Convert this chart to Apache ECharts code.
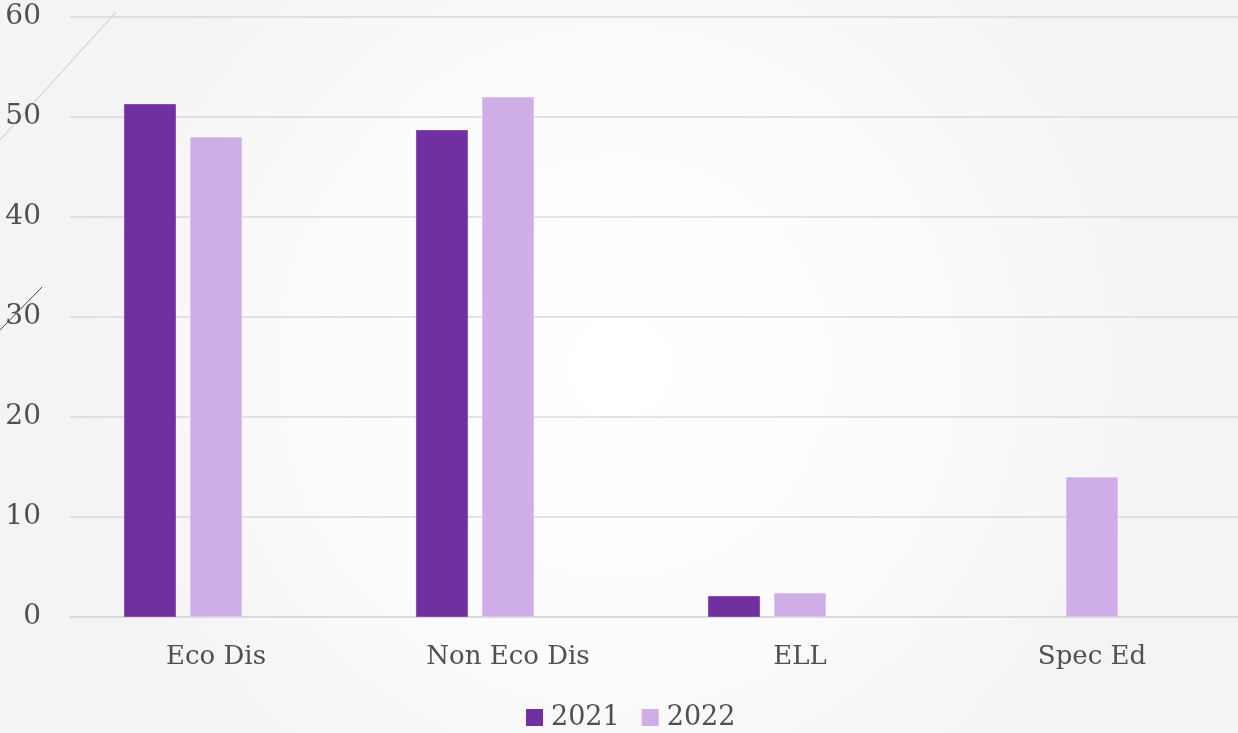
<!DOCTYPE html>
<html>
<head>
<meta charset="utf-8">
<script src="https://cdn.jsdelivr.net/npm/echarts@6/dist/echarts.min.js"></script>
<style>html,body{margin:0;padding:0;}#c{width:1238px;height:733px;}</style>
</head>
<body>
<div id="c"></div>
<script>
const categories = ['Eco Dis', 'Non Eco Dis', 'ELL', 'Spec Ed'];
const values2021 = [51.3, 48.7, 2.1, '-'];
const values2022 = [48.0, 52.0, 2.4, 14.0];
const valuesBlank = ['-', '-', '-', '-'];
const yTicks = [0, 10, 20, 30, 40, 50, 60];

const font = 'DejaVu Serif';
const chart = echarts.init(document.getElementById('c'));
chart.setOption({
  backgroundColor: {
    type: 'radial', x: 0.5, y: 0.5, r: 0.75,
    colorStops: [{offset: 0, color: '#ffffff'}, {offset: 0.5, color: '#fcfcfc'}, {offset: 1, color: '#f4f4f4'}]
  },
  animation: false,
  graphic: [
    {type: 'line', shape: {x1: 116, y1: 12, x2: 0, y2: 140}, style: {stroke: '#c8c8c8', lineWidth: 1}, z: -1},
    {type: 'line', shape: {x1: 42, y1: 287, x2: 0, y2: 330}, style: {stroke: '#404858', lineWidth: 1}, z: -1}
  ],
  grid: {left: 70, right: 0, top: 17, bottom: 116, containLabel: false},
  legend: {
    data: ['2021', '2022'],
    bottom: -3, left: 521,
    itemWidth: 17, itemHeight: 17, itemGap: 22,
    icon: 'rect',
    itemStyle: {borderWidth: 0},
    textStyle: {fontFamily: font, fontSize: 27, color: '#505050', padding: [0, 0, 0, 3]}
  },
  xAxis: {
    type: 'category', data: categories,
    axisLine: {lineStyle: {color: '#d9d9d9', width: 1.5}},
    axisTick: {show: false},
    axisLabel: {fontFamily: font, fontSize: 26, color: '#505050', margin: 27}
  },
  yAxis: {
    type: 'value', min: 0, max: 60, interval: 10,
    axisLine: {show: false}, axisTick: {show: false},
    splitLine: {lineStyle: {color: '#d9d9d9', width: 1.5}},
    axisLabel: {fontFamily: font, fontSize: 28, color: '#505050', margin: 29,
      formatter: v => yTicks.includes(v) ? String(v) : ''}
  },
  series: [
    {name: '2021', type: 'bar', data: values2021, barWidth: 52, barGap: '27%',
      itemStyle: {color: '#7030a0', borderColor: '#8a4cbb', borderWidth: 1}},
    {name: '2022', type: 'bar', data: values2022, barWidth: 52, barGap: '27%',
      itemStyle: {color: '#cfaee7', borderColor: '#ddc4f0', borderWidth: 1}},
    {name: 'blank', type: 'bar', data: valuesBlank, barWidth: 52, barGap: '27%'}
  ]
});
</script>
</body>
</html>
